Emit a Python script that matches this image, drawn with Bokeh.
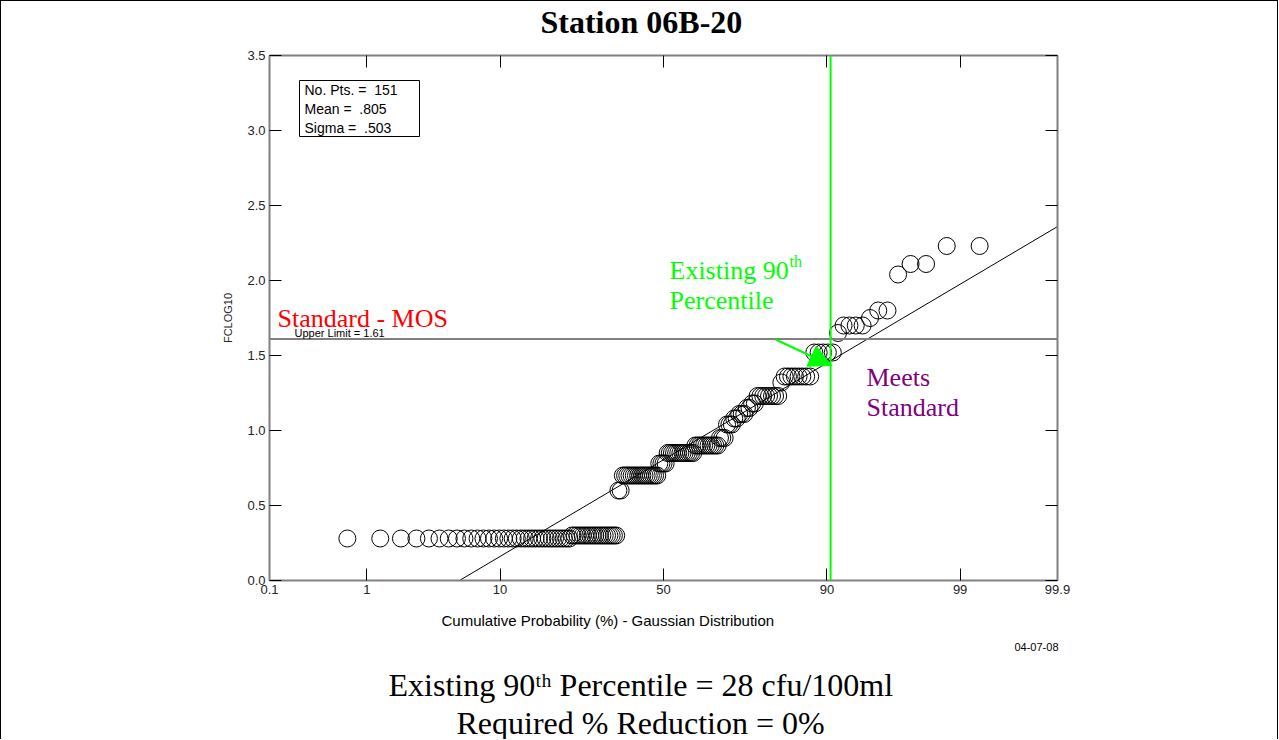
import math
from bokeh.plotting import figure
from bokeh.models import (FixedTicker, CustomJSTickFormatter, NumeralTickFormatter, LinearAxis,
                          Span, Label, BoxAnnotation, Arrow, NormalHead, ColumnDataSource, Range1d, Title)
from bokeh.embed import file_html
from bokeh.resources import INLINE

# ---------------- data ----------------
# sorted FCLOG10 values, given as distinct levels and how many samples sit at each level
LEVELS = [0.28, 0.30, 0.60, 0.70, 0.78, 0.85, 0.90, 0.95, 1.04, 1.08, 1.11, 1.15,
          1.18, 1.23, 1.32, 1.36, 1.52, 1.65, 1.70, 1.75, 1.80, 2.04, 2.11, 2.23]
COUNTS = [35, 19, 2, 17, 4, 13, 11, 3, 3, 2, 3, 2,
          2, 8, 1, 8, 5, 1, 4, 1, 2, 1, 2, 2]
N_PTS = 151
MEAN = 0.805
SIGMA = 0.503
UPPER_LIMIT = 1.61
EXISTING_90_PCT = 90.5          # position of the green vertical marker (% cumulative)
X_TICK_PCT = [0.1, 1, 10, 50, 90, 99, 99.9]
X_TICK_LABELS = ["0.1", "1", "10", "50", "90", "99", "99.9"]
Y_TICKS = [0.0, 0.5, 1.0, 1.5, 2.0, 2.5, 3.0, 3.5]


def norm_ppf(p):
    lo, hi = -10.0, 10.0
    for _ in range(200):
        mid = 0.5 * (lo + hi)
        if 0.5 * (1.0 + math.erf(mid / math.sqrt(2.0))) < p:
            lo = mid
        else:
            hi = mid
    return 0.5 * (lo + hi)


values = []
for lv, c in zip(LEVELS, COUNTS):
    values += [lv] * c
n = len(values)
zpos = [norm_ppf(i / (n + 1)) for i in range(1, n + 1)]

zticks = [norm_ppf(v / 100.0) for v in X_TICK_PCT]
XMIN, XMAX = zticks[0] - 1e-6, zticks[-1] + 1e-6
YMIN, YMAX = 0.0, 3.5

# frame placement in page pixels (canvas starts 1px in, after the border)
FL, FR, FT, FB = 269, 1057, 55, 580
CANVAS_W, CANVAS_H = 1276, 738


def dx(px):
    return XMIN + (px - FL) / (FR - FL) * (XMAX - XMIN)


def dy(py):
    return YMIN + (FB - py) / (FB - FT) * (YMAX - YMIN)


SANS = "Liberation Sans"
SERIF = "Liberation Serif"

p = figure(frame_width=FR - FL, frame_height=FB - FT,
           min_border_left=FL - 1, min_border_right=CANVAS_W - (FR - 1),
           min_border_top=FT - 1, min_border_bottom=CANVAS_H - (FB - 1),
           x_range=Range1d(XMIN, XMAX), y_range=Range1d(YMIN, YMAX),
           output_backend="svg", toolbar_location=None, title=None,
           styles={"border-left": "1px solid black", "border-top": "1px solid black",
                   "border-right": "1px solid black"})
p.grid.visible = False
p.outline_line_color = None
p.background_fill_color = "white"
p.border_fill_color = "white"


def style_axis(ax, labels=True):
    ax.major_tick_in = 12
    ax.major_tick_out = 0
    ax.minor_tick_in = 0
    ax.minor_tick_out = 0
    ax.axis_line_color = "#808080"
    ax.axis_line_width = 2
    ax.major_tick_line_color = "black"
    ax.major_tick_line_width = 1
    ax.major_label_text_font = SANS
    ax.major_label_text_color = "#222222"
    if labels:
        ax.major_label_text_font_size = "13px"
        ax.major_label_standoff = 4
    else:
        ax.major_label_text_font_size = "0px"
        ax.major_label_standoff = 0


xb = p.xaxis[0]
xb.ticker = FixedTicker(ticks=zticks)
xb.formatter = CustomJSTickFormatter(args=dict(labels=X_TICK_LABELS), code="return labels[index];")
style_axis(xb)

yl = p.yaxis[0]
yl.ticker = FixedTicker(ticks=Y_TICKS)
yl.formatter = NumeralTickFormatter(format="0.0")
style_axis(yl)
yl.axis_label = "FCLOG10"
yl.axis_label_text_font = SANS
yl.axis_label_text_font_size = "11px"
yl.axis_label_text_font_style = "normal"
yl.axis_label_text_color = "#222222"
yl.axis_label_standoff = 10

xt = LinearAxis(ticker=FixedTicker(ticks=zticks), formatter=CustomJSTickFormatter(code="return '';"))
style_axis(xt, labels=False)
p.add_layout(xt, "above")
yr = LinearAxis(ticker=FixedTicker(ticks=Y_TICKS), formatter=CustomJSTickFormatter(code="return '';"))
style_axis(yr, labels=False)
p.add_layout(yr, "right")

# fitted gaussian line
p.line([XMIN, XMAX], [MEAN + SIGMA * XMIN, MEAN + SIGMA * XMAX], line_color="black", line_width=1)

# upper limit line and green 90th percentile marker
p.add_layout(Span(location=UPPER_LIMIT, dimension="width", line_color="#808080", line_width=2))
p.add_layout(Span(location=norm_ppf(EXISTING_90_PCT / 100.0), dimension="height",
                  line_color="#00ff00", line_width=2))

# data points
src = ColumnDataSource(dict(x=zpos, y=values))
p.scatter("x", "y", source=src, marker="circle", size=17, fill_color=None,
          line_color="black", line_width=1)

# arrow
p.add_layout(Arrow(end=NormalHead(size=22, fill_color="#00ff00", line_color="#00ff00"),
                   x_start=dx(775), y_start=dy(339), x_end=dx(831), y_end=dy(365),
                   line_color="#00ff00", line_width=2))

# stats box
p.add_layout(BoxAnnotation(left=dx(299), right=dx(419), top=dy(80), bottom=dy(136),
                           fill_color="white", fill_alpha=1.0, line_color="black",
                           line_width=1, line_alpha=1.0))


def lab(px, py, text, size, font=SANS, color="black", align="left", baseline="middle",
        style="normal", angle=0):
    p.add_layout(Label(x=dx(px), y=dy(py), text=text, text_font=font, text_font_size=f"{size}px",
                       text_color=color, text_align=align, text_baseline=baseline,
                       text_font_style=style, angle=angle))


NB = "\u00a0"
lab(304, 89, f"No. Pts. ={NB}{NB}{N_PTS}", 14)
lab(304, 108, f"Mean ={NB}{NB}" + f"{MEAN:.3f}".lstrip("0"), 14)
lab(304, 127, f"Sigma ={NB}{NB}" + f"{SIGMA:.3f}".lstrip("0"), 14)

lab(294, 332, f"Upper Limit = {UPPER_LIMIT:.2f}", 11)
lab(277, 318, "Standard - MOS", 26, font=SERIF, color="#ff0000")

lab(669, 270, "Existing 90", 26, font=SERIF, color="#00ff00")
lab(789, 261, "th", 16, font=SERIF, color="#00ff00")
lab(669, 300, "Percentile", 26, font=SERIF, color="#00ff00")

lab(866, 377, "Meets", 26, font=SERIF, color="#800080")
lab(866, 407, "Standard", 26, font=SERIF, color="#800080")


# texts outside the frame: titles in the side panels (stacked outward from the frame)
def title(text, place, size, left=None, right=None, standoff=0, font=SERIF, style="normal"):
    if left is not None:
        t = Title(text=text, align="left", offset=left - FL)
    else:
        t = Title(text=text, align="right", offset=FR - right)
    t.vertical_align = "middle"
    t.standoff = standoff
    t.text_font = font
    t.text_font_size = f"{size}px"
    t.text_font_style = style
    t.text_color = "black"
    p.add_layout(t, place)


title(" ", "above", 10, left=FL, standoff=2, font=SANS)          # spacer between frame and title
title("Station 06B-20", "above", 32, left=540, standoff=0, style="bold")
title("Cumulative Probability (%) - Gaussian Distribution", "below", 15, left=441,
      standoff=28, font=SANS)
title("04-07-08", "below", 11, right=1058, standoff=-4, font=SANS)
title("Existing 90\u1d57\u02b0 Percentile = 28 cfu/100ml", "below", 32, left=388, standoff=33)
title("Required % Reduction = 0%", "below", 32, left=456, standoff=-34)

open("out.html", "w").write(file_html(p, INLINE))
